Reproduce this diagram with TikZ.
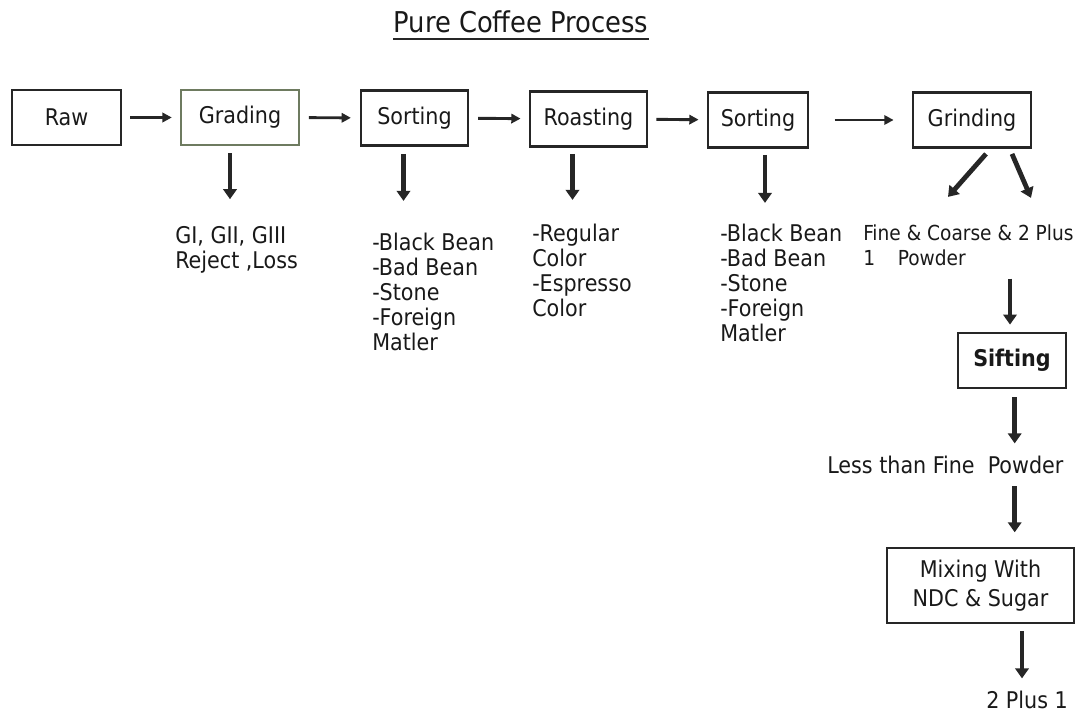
\documentclass[tikz,border=0pt]{standalone}
\usepackage{fontspec}
\setmainfont{DejaVu Sans Condensed}
\usetikzlibrary{arrows.meta}
\definecolor{ink}{HTML}{262626}
\definecolor{olive}{HTML}{6E7B60}
\begin{document}
\begin{tikzpicture}[x=0.75pt,y=-0.75pt,
  txt/.style={font=\fontsize{17.25}{18.75}\selectfont, text=black!90, inner sep=0pt},
  stage/.style={draw=ink, line width=2.1pt, txt, minimum height=41.25pt},
  flow/.style={draw=ink, line width=2.2pt, -{Triangle[length=7pt,width=7pt]}},
  drop/.style={draw=ink, line width=3.6pt, -{Triangle[length=7.5pt,width=10pt]}},
  list/.style={txt, anchor=north west, align=left}
]
\useasboundingbox (0,0) rectangle (1076,713);

% title
\node[txt, font=\fontsize{21.5}{24}\selectfont] (title) at (521,22) {Pure Coffee Process};
\draw[ink, line width=1.3pt] ([yshift=-5pt]title.base west) -- ([yshift=-5pt]title.base east);

% main line of stages
\node[stage, minimum width=81.75pt] (raw)   at (66.5,117.5) {Raw};
\node[stage, draw=olive, line width=1.8pt, minimum width=88.5pt] (grade) at (240,117.5) {Grading};
\node[stage, minimum width=80.25pt] (sortA) at (414.5,118) {Sorting};
\node[stage, minimum width=87.75pt] (roast) at (588.5,119) {Roasting};
\node[stage, minimum width=75pt]    (sortB) at (758,120) {Sorting};
\node[stage, minimum width=88.5pt]  (grind) at (972,120) {Grinding};

\draw[flow, shorten <=6pt, shorten >=6pt] (raw) -- (grade);
\draw[flow, shorten <=6.5pt, shorten >=6.5pt] (grade) -- (sortA);
\draw[flow, shorten <=6.5pt, shorten >=6pt] (sortA) -- (roast);
\draw[flow, shorten <=6pt, shorten >=6pt] (roast) -- (sortB);
\draw[flow, shorten <=19pt, shorten >=13.5pt] (sortB) -- (grind);

% by-products of each stage
\node[list] (gradeout) at (175,226) {GI, GII, GIII\\Reject ,Loss};
\node[list] (sortAout) at (372,233) {-Black Bean\\-Bad Bean\\-Stone\\-Foreign\\Matler};
\node[list] (roastout) at (532,224) {-Regular\\Color\\-Espresso\\Color};
\node[list] (sortBout) at (720,224) {-Black Bean\\-Bad Bean\\-Stone\\-Foreign\\Matler};
\node[list, font=\fontsize{15.5}{18.75}\selectfont] (grindout) at (863,225)
  {Fine \& Coarse \& 2 Plus\\1\hspace{1.1em}Powder};

\draw[drop] (grade.south) ++(-10,7) -- ++(0,46);
\draw[drop] (sortA.south) ++(-11,7) -- ++(0,47);
\draw[drop] (roast.south) ++(-16,6) -- ++(0,46);
\draw[drop] (sortB.south) ++(7,6) -- ++(0,48);
\draw[drop] (grind.south) ++(14,5) -- ++(-38,43);
\draw[drop] (grind.south) ++(40,5) -- ++(19,44);

% sifting and mixing branch
\node[stage, minimum width=81pt, font=\fontsize{17.25}{18.75}\selectfont\bfseries] (sift) at (1012,360.5) {Sifting};
\node[list] (fine) at (827,456) {Less than Fine~~Powder};
\node[stage, minimum width=140.25pt, minimum height=56.25pt, align=center,
      font=\fontsize{17.25}{21.75}\selectfont] (mix) at (980.5,585.5) {Mixing With\\NDC \& Sugar};
\node[list] (final) at (986,691) {2 Plus 1};

\draw[drop] (sift.north) ++(-2,-53) -- ++(0,46);
\draw[drop, shorten <=6pt] (sift.south -| fine.north east) ++(-49,0) -- ++(0,54);
\draw[drop] (fine.south east) ++(-49,12) -- ++(0,46);
\draw[drop, shorten <=5pt] (mix.south) ++(41.5,0) -- ++(0,54);
\end{tikzpicture}
\end{document}
